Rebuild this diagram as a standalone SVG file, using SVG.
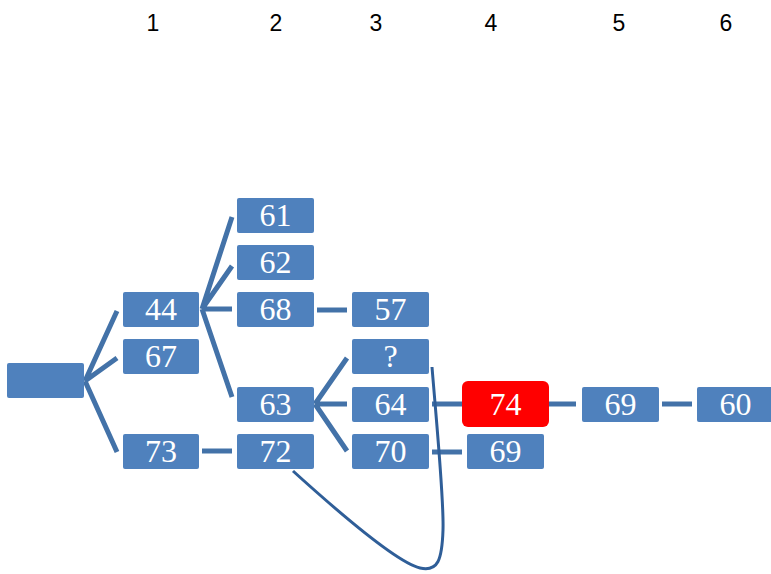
<svg xmlns="http://www.w3.org/2000/svg" width="771" height="574" viewBox="0 0 771 574">
<style>
.b{fill:#4F81BD;}
.r{fill:#FF0000;}
.t{font-family:"Liberation Serif","DejaVu Serif",serif;font-size:32px;fill:#FFFFFF;text-anchor:middle;}
.h{font-family:"Liberation Sans","Open Sans",sans-serif;font-size:23px;fill:#000000;text-anchor:middle;}
.c{stroke:#4372A8;stroke-width:5;fill:none;stroke-linecap:butt;}
.k{stroke:#2F5E98;stroke-width:3;fill:none;}
</style>
<rect width="771" height="574" fill="#FFFFFF"/>
<g id="headers">
<text class="h" x="153" y="31">1</text>
<text class="h" x="276" y="31">2</text>
<text class="h" x="376" y="31">3</text>
<text class="h" x="491" y="31">4</text>
<text class="h" x="619" y="31">5</text>
<text class="h" x="726" y="31">6</text>
</g>
<g id="connectors">
<path class="c" d="M85 381 L117 311 M85 381 L117 358 M85 381 L117 452"/>
<path class="c" d="M202 309 L232 217 M202 309 L232 266 M202 309 L232 309 M202 309 L232 397"/>
<path class="c" d="M317 310 L347 310"/>
<path class="c" d="M202 451 L232 451"/>
<path class="c" d="M315 404 L347 358 M315 404 L347 404 M315 404 L347 451"/>
<path class="c" d="M432 404 L462 404"/>
<path class="c" d="M432 452 L462 452"/>
<path class="c" d="M547 404 L576 404"/>
<path class="c" d="M662 404 L692 404"/>
<path class="k" d="M432 367 C438 440 444 500 443 530 C442 560 438 572 420 568 C395 562 325 500 293 471"/>
</g>
<g id="n-root"><rect class="b" x="7" y="363" width="77" height="35" rx="2"/></g>
<g id="n44"><rect class="b" x="123" y="292" width="76" height="35" rx="2"/><text class="t" x="161" y="320">44</text></g>
<g id="n67"><rect class="b" x="123" y="339" width="76" height="35" rx="2"/><text class="t" x="161" y="367">67</text></g>
<g id="n73"><rect class="b" x="123" y="434" width="76" height="35" rx="2"/><text class="t" x="161" y="462">73</text></g>
<g id="n61"><rect class="b" x="237" y="198" width="77" height="35" rx="2"/><text class="t" x="275.5" y="226">61</text></g>
<g id="n62"><rect class="b" x="237" y="245" width="77" height="35" rx="2"/><text class="t" x="275.5" y="273">62</text></g>
<g id="n68"><rect class="b" x="237" y="292" width="77" height="35" rx="2"/><text class="t" x="275.5" y="320">68</text></g>
<g id="n63"><rect class="b" x="237" y="387" width="77" height="35" rx="2"/><text class="t" x="275.5" y="415">63</text></g>
<g id="n72"><rect class="b" x="237" y="434" width="77" height="35" rx="2"/><text class="t" x="275.5" y="462">72</text></g>
<g id="n57"><rect class="b" x="352" y="292" width="77" height="35" rx="2"/><text class="t" x="390.5" y="320">57</text></g>
<g id="nq"><rect class="b" x="352" y="339" width="77" height="35" rx="2"/><text class="t" x="390.5" y="367">?</text></g>
<g id="n64"><rect class="b" x="352" y="387" width="77" height="35" rx="2"/><text class="t" x="390.5" y="415">64</text></g>
<g id="n70"><rect class="b" x="352" y="434" width="77" height="35" rx="2"/><text class="t" x="390.5" y="462">70</text></g>
<g id="n74"><rect class="r" x="462" y="381" width="87" height="46" rx="6"/><text class="t" x="505.5" y="415">74</text></g>
<g id="n69a"><rect class="b" x="467" y="434" width="77" height="35" rx="2"/><text class="t" x="505.5" y="462">69</text></g>
<g id="n69b"><rect class="b" x="582" y="387" width="77" height="35" rx="2"/><text class="t" x="620.5" y="415">69</text></g>
<g id="n60"><rect class="b" x="697" y="387" width="77" height="35" rx="2"/><text class="t" x="735.5" y="415">60</text></g>
</svg>
